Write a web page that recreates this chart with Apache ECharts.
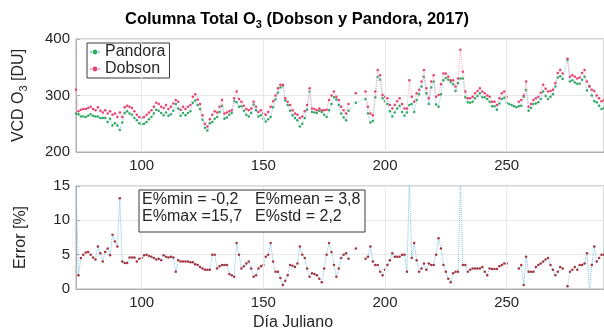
<!DOCTYPE html>
<html><head><meta charset="utf-8">
<script src="https://cdn.jsdelivr.net/npm/echarts@6/dist/echarts.min.js"></script>
<style>html,body{margin:0;padding:0;background:#fff}#c{width:604px;height:336px}</style>
</head><body><div id="c"></div>
<script>
// Julian day
const days = [
 73,74,75,76,77,78,79,80,81,82,
 83,84,85,86,87,88,89,90,91,92,
 93,94,95,96,97,98,99,100,101,102,
 103,104,105,106,107,108,109,110,111,112,
 113,114,115,116,117,118,119,120,121,122,
 123,124,125,126,127,128,129,130,131,132,
 133,134,135,136,137,138,139,140,141,142,
 143,144,145,146,147,148,149,150,151,152,
 153,154,155,156,157,158,159,160,161,162,
 163,164,165,166,167,168,169,170,171,172,
 173,174,175,176,177,178,179,180,181,182,
 183,184,185,186,187,188,189,190,191,192,
 193,194,195,196,197,198,199,200,201,202,
 203,204,205,206,207,208,209,210,211,212,
 213,214,215,216,217,218,219,220,221,222,
 223,224,225,226,227,228,229,230,231,232,
 233,234,235,236,237,238,239,240,241,242,
 243,244,245,246,247,248,249,250,251,252,
 253,254,255,256,257,258,259,260,261,262,
 263,264,265,266,267,268,269,270,271,272,
 273,274,275,276,277,278,279,280,281,282,
 283,284,285,286,287,288,289,290
];
// Dobson total ozone [DU]
const dobson = [
 310,272,275,276,276,278,280,276,274,279,
 273,270,274,268,272,266,268,262,270,262,
 279,282,280,278,272,266,262,260,262,266,
 270,274,280,287,285,280,278,283,276,280,
 286,292,289,275,280,276,280,283,298,302,
 293,285,265,250,245,258,266,272,270,280,
 292,268,270,272,274,295,307,294,289,282,
 276,274,277,289,280,271,274,268,266,271,
 280,290,300,313,319,319,295,289,283,274,
 268,266,260,263,272,283,313,277,276,274,
 277,274,274,275,292,300,307,298,292,280,
 274,268,285,null,null,304,null,null,null,307,
 280,268,265,307,345,336,301,298,295,283,
 277,283,290,295,285,277,277,327,298,289,
 304,310,325,345,313,295,325,336,298,301,
 320,339,339,333,327,327,316,330,381,342,
 307,295,295,298,304,308,313,307,304,300,
 298,289,289,283,295,304,307,298,null,null,
 null,null,289,292,300,325,280,285,292,295,
 298,305,319,312,307,308,310,322,340,345,
 339,null,365,333,336,333,330,332,340,345,
 325,316,310,308,300,295,290,292
];
// Pandora total ozone [DU]
const pandora = [
 268,267,263,263,262,264,267,264,263,263,
 260,260,260,253,259,247,251,247,239,252,
 269,272,268,266,260,256,251,249,250,253,
 258,262,268,275,273,269,265,270,264,267,
 273,285,277,264,269,265,269,272,287,291,
 283,276,257,243,238,251,253,259,262,271,
 282,259,261,266,269,290,288,280,281,273,
 266,263,269,284,274,263,265,259,254,258,
 262,279,293,305,314,317,291,283,273,265,
 260,256,245,250,260,275,307,271,270,269,
 273,271,266,262,274,285,297,293,283,268,
 261,256,273,null,null,287,null,null,null,294,
 268,252,255,297,333,328,295,290,285,272,
 263,270,277,282,271,264,270,283,285,271,
 292,302,316,333,304,285,314,325,284,280,
 302,327,331,328,324,320,308,322,330,330,
 297,288,287,289,295,299,304,297,297,294,
 289,281,281,275,286,294,296,287,285,283,
 281,279,281,282,298,310,273,278,285,286,
 288,294,307,299,294,298,302,316,332,334,
 329,null,363,325,327,323,321,321,328,333,
 309,317,300,290,288,282,276,278
];
// Relative error [%]
const errorPct = [
 15.7,2.0,4.5,5.0,5.3,5.4,5.0,4.6,4.3,6.2,
 5.2,4.0,5.4,5.9,4.9,7.9,6.9,6.2,13.2,4.0,
 3.8,3.8,4.6,4.6,4.6,4.0,4.4,4.5,4.9,5.0,
 4.8,4.7,4.5,4.3,4.4,4.2,4.9,4.7,4.6,4.7,
 4.6,2.5,4.2,4.0,4.0,4.0,4.0,3.9,3.9,3.6,
 3.5,3.2,3.0,2.8,2.8,2.8,5.0,5.0,3.0,3.3,
 3.5,3.5,3.5,2.2,2.0,1.8,6.7,5.0,3.0,3.3,
 3.7,4.0,3.0,1.8,2.0,3.0,3.3,3.5,4.7,5.0,
 6.7,4.0,2.5,2.5,1.6,0.6,1.2,2.0,3.5,3.4,
 3.2,3.7,6.2,5.0,4.5,3.0,1.8,2.3,2.2,2.0,
 1.5,1.0,3.0,5.0,6.7,5.4,3.5,1.8,3.0,4.5,
 5.0,5.2,4.4,null,null,5.9,null,null,null,4.4,
 4.7,6.2,4.0,3.5,3.5,2.5,2.0,2.8,3.5,4.2,
 5.2,4.7,4.7,4.7,5.0,5.0,2.5,15.7,4.5,6.7,
 4.2,2.5,3.0,3.7,2.8,3.7,3.5,3.5,5.0,7.4,
 5.9,3.5,2.5,1.5,1.0,2.3,2.5,2.5,15.5,3.5,
 3.5,2.5,2.8,3.0,3.0,3.0,3.0,3.2,2.5,2.0,
 3.0,2.9,2.9,2.9,3.3,3.5,3.7,3.7,null,null,
 null,null,3.0,3.5,0.6,4.7,2.5,2.5,2.5,3.2,
 3.5,3.7,4.0,4.3,4.5,3.5,2.8,2.0,2.5,3.2,
 3.0,null,0.4,2.5,2.8,3.2,2.8,3.5,3.5,3.7,
 5.2,-0.2,3.5,6.2,4.0,4.5,5.0,5.0
];
const xTicks = [100, 150, 200, 250];
const statsText = [['E%min = -0,2', 'E%mean = 3,8'], ['E%max =15,7', 'E%std = 2,2']];

const FONT = '"Liberation Sans", Arial, Helvetica, sans-serif';
const TXT = '#262626';
const AX = '#b0b0b0';
const GRIDC = '#e8e8e8';
function pairs(arr) { return days.map((d, i) => [d, arr[i]]); }

const sub = {
  a: { fontSize: 16, color: TXT, fontFamily: FONT },
  s: { fontSize: 11, color: TXT, fontFamily: FONT, padding: [10, 0, 0, 0] }
};
const subBold = {
  a: { fontSize: 16.5, color: '#000', fontFamily: FONT, fontWeight: 'bold' },
  s: { fontSize: 11, color: '#000', fontFamily: FONT, fontWeight: 'bold', padding: [10, 0, 0, 0] }
};

function xAxisCfg(gi) {
  return {
    type: 'value', gridIndex: gi, min: 73, max: 290,
    axisLine: { show: true, onZero: false, lineStyle: { color: AX } },
    axisTick: { show: true, inside: true, length: 4, lineStyle: { color: AX }, customValues: xTicks },
    axisLabel: { customValues: xTicks, color: TXT, fontSize: 15, fontFamily: FONT, margin: 6 },
    splitLine: { show: false }
  };
}
function yAxisCfg(gi, min, max, interval, name) {
  return {
    type: 'value', gridIndex: gi, min: min, max: max, interval: interval,
    name: name, nameLocation: 'middle', nameGap: 47, nameRotate: 90, nameMoveOverlap: false,
    nameTextStyle: { rich: sub },
    axisLine: { show: true, lineStyle: { color: AX } },
    axisTick: { show: true, inside: true, length: 4, lineStyle: { color: AX } },
    axisLabel: { color: TXT, fontSize: 15, fontFamily: FONT, margin: 6 },
    splitLine: { show: true, lineStyle: { color: GRIDC, width: 1 } }
  };
}
function vGrid() {
  return {
    silent: true, symbol: 'none', animation: false,
    label: { show: false },
    lineStyle: { color: GRIDC, type: 'solid', width: 1 },
    data: xTicks.map(v => ({ xAxis: v }))
  };
}

const option = {
  animation: false,
  backgroundColor: '#fff',
  title: {
    text: '{a|Columna Total O}{s|3}{a| (Dobson y Pandora, 2017)}',
    left: 125, top: 9, padding: 0,
    textStyle: { rich: subBold }
  },
  legend: {
    left: 87, top: 43, orient: 'vertical', data: ['Pandora', 'Dobson'],
    backgroundColor: '#fff', borderColor: '#3a3a3a', borderWidth: 1,
    padding: [1, 4, 1, 2], itemGap: 1, itemWidth: 10, itemHeight: 6,
    textStyle: { fontSize: 16, color: TXT, fontFamily: FONT }
  },
  grid: [
    { left: 76, top: 39, width: 528, height: 113, show: true, borderColor: AX, borderWidth: 1, outerBoundsMode: 'none' },
    { left: 76, top: 186, width: 528, height: 103, show: true, borderColor: AX, borderWidth: 1, outerBoundsMode: 'none' }
  ],
  xAxis: [xAxisCfg(0), xAxisCfg(1)],
  yAxis: [
    yAxisCfg(0, 200, 400, 100, '{a|VCD O}{s|3}{a| [DU]}'),
    yAxisCfg(1, 0, 15, 5, '{a|Error [%]}')
  ],
  series: [
    {
      name: 'Pandora', type: 'line', xAxisIndex: 0, yAxisIndex: 0, data: pairs(pandora),
      symbol: 'circle', symbolSize: 2.5, connectNulls: true, z: 3,
      lineStyle: { color: '#86cfe8', width: 1, type: 'dotted' },
      itemStyle: { color: '#33a862', borderWidth: 0 },
      markLine: vGrid()
    },
    {
      name: 'Dobson', type: 'line', xAxisIndex: 0, yAxisIndex: 0, data: pairs(dobson),
      symbol: 'circle', symbolSize: 2.5, connectNulls: false, z: 4,
      lineStyle: { color: '#f5adbd', width: 1, type: 'dotted' },
      itemStyle: { color: '#e8416f', borderWidth: 0 }
    },
    {
      name: 'Error', type: 'line', xAxisIndex: 1, yAxisIndex: 1, data: pairs(errorPct),
      symbol: 'circle', symbolSize: 2.5, connectNulls: false,
      lineStyle: { color: '#7cc3e6', width: 1, type: 'dotted' },
      itemStyle: { color: '#a3343f', borderWidth: 0 },
      markLine: vGrid()
    }
  ],
  graphic: [
    { type: 'rect', shape: { x: 139, y: 190, width: 226, height: 42 }, style: { fill: '#fff', stroke: '#3a3a3a', lineWidth: 1 }, z: 100 },
    { type: 'text', x: 142, y: 200, style: { text: statsText[0][0], font: '16px ' + FONT, fill: TXT, verticalAlign: 'middle' }, z: 101 },
    { type: 'text', x: 255, y: 200, style: { text: statsText[0][1], font: '16px ' + FONT, fill: TXT, verticalAlign: 'middle' }, z: 101 },
    { type: 'text', x: 142, y: 217, style: { text: statsText[1][0], font: '16px ' + FONT, fill: TXT, verticalAlign: 'middle' }, z: 101 },
    { type: 'text', x: 255, y: 217, style: { text: statsText[1][1], font: '16px ' + FONT, fill: TXT, verticalAlign: 'middle' }, z: 101 },
    { type: 'text', x: 293, y: 323, style: { text: 'Día Juliano', font: '16px ' + FONT, fill: TXT, align: 'center', verticalAlign: 'middle' }, z: 101 }
  ]
};
const chart = echarts.init(document.getElementById('c'), null, { renderer: 'canvas' });
chart.setOption(option);
</script>
</body></html>
